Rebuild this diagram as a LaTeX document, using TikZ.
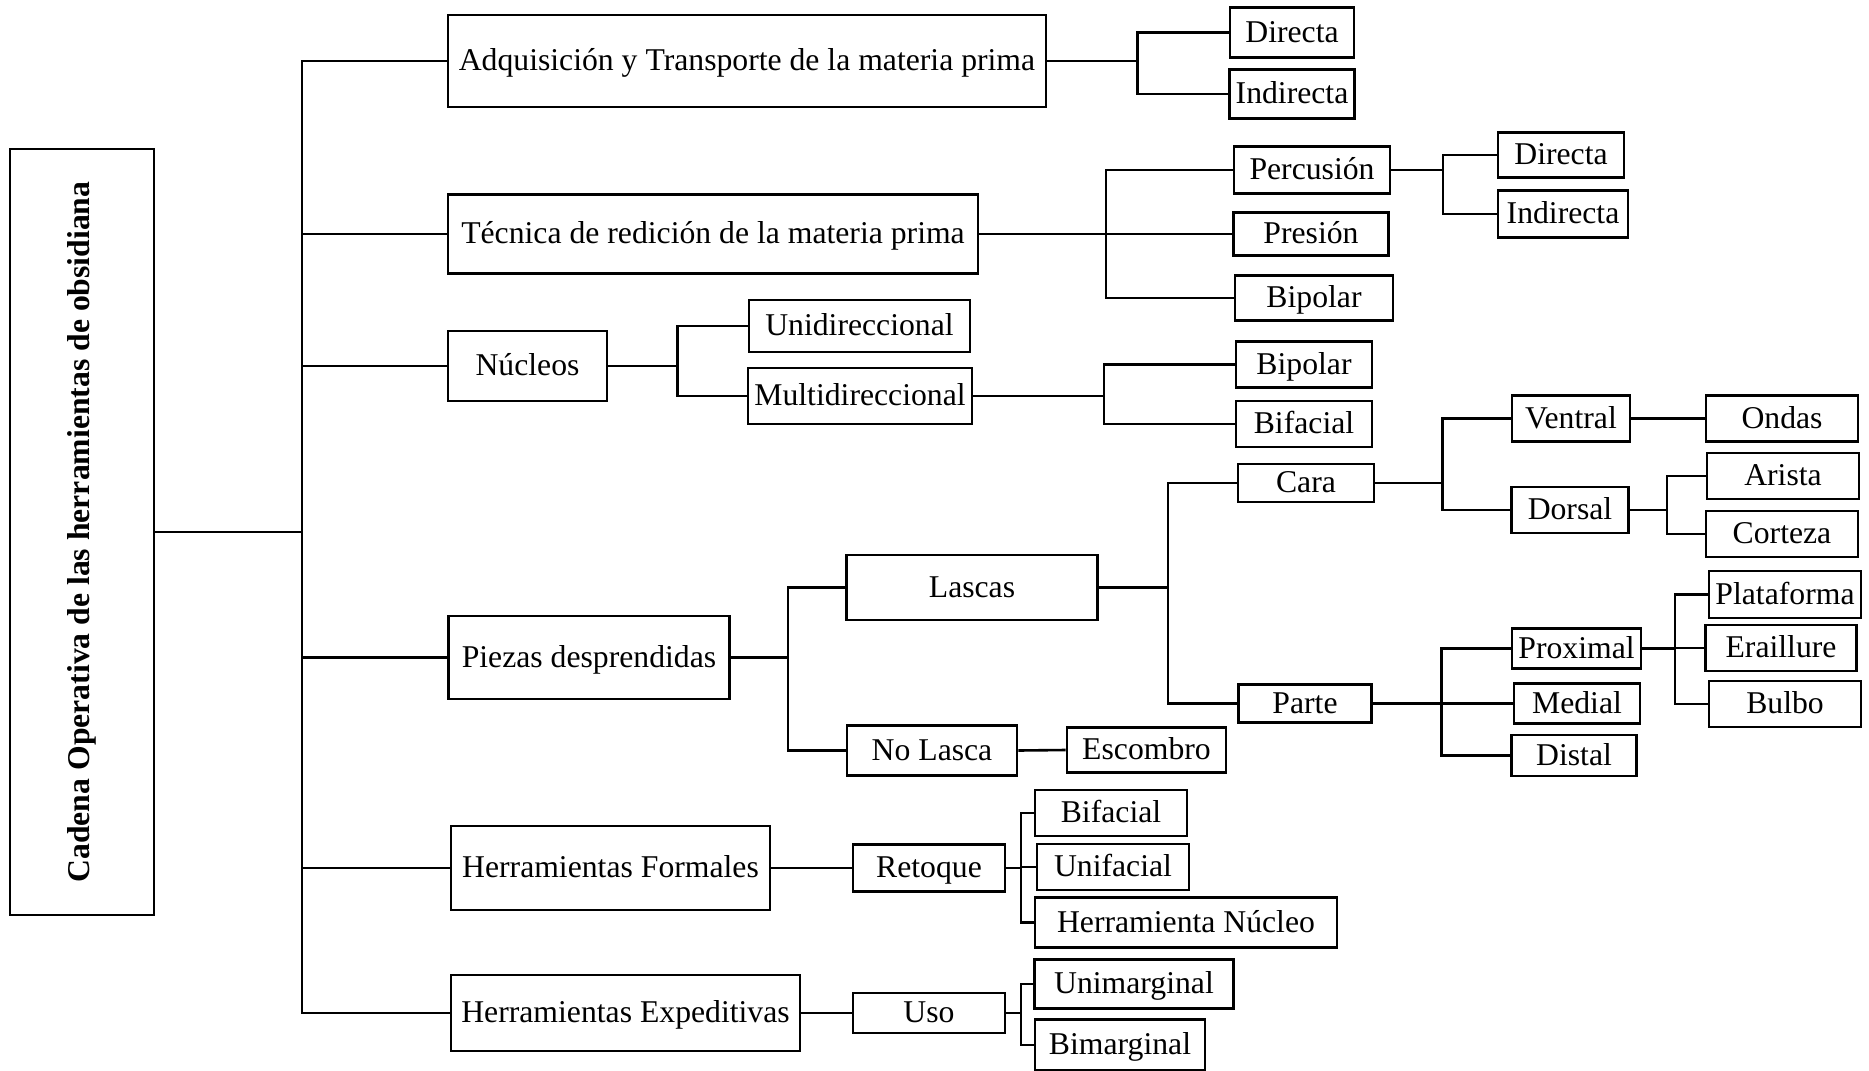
\documentclass[tikz,border=0pt]{standalone}
\usepackage{fontspec}
\setmainfont{Liberation Serif}
\usepackage{tikz}

\begin{document}
\begin{tikzpicture}[x=0.5pt,y=-0.5pt,
  box/.style 2 args={draw,line width=1.3pt,inner sep=0pt,
                     minimum width=#1*0.5pt,minimum height=#2*0.5pt,
                     text height=14.3pt,text depth=4.6pt,
                     font=\fontsize{15.85pt}{19pt}\selectfont},
  link/.style={line width=1.3pt}]
  \useasboundingbox (0,0) rectangle (1869,1071);
  \node[box={144}{766},text height=,text depth=] (root) at (82,532)
    {\rotatebox{90}{\bfseries Cadena Operativa de las herramientas de obsidiana}};
  % first level
  \node[box={598}{92}] (adq) at (747,61) {Adquisición y Transporte de la materia prima};
  \node[box={530}{79}] (tec) at (713,234) {Técnica de redición de la materia prima};
  \node[box={159}{70}] (nuc) at (527.5,366) {Núcleos};
  \node[box={281}{83}] (pie) at (589,657.5) {Piezas desprendidas};
  \node[box={319}{84}] (hfor) at (610.5,868) {Herramientas Formales};
  \node[box={349}{76}] (hexp) at (625.5,1013) {Herramientas Expeditivas};
  % adquisicion
  \node[box={124}{50}] (dirA) at (1292,32.5) {Directa};
  \node[box={125}{49}] (indA) at (1292,94) {Indirecta};
  % tecnica
  \node[box={156}{47}] (per) at (1312,170) {Percusión};
  \node[box={155}{43}] (pre) at (1311,234) {Presión};
  \node[box={158}{45}] (bipT) at (1314,298) {Bipolar};
  \node[box={126}{45}] (dirP) at (1561,155) {Directa};
  \node[box={130}{47}] (indP) at (1563,214) {Indirecta};
  % nucleos
  \node[box={221}{52}] (uni) at (859.5,326) {Unidireccional};
  \node[box={224}{56}] (mul) at (860,396) {Multidireccional};
  \node[box={136}{46}] (bipM) at (1304,364.5) {Bipolar};
  \node[box={136}{46}] (bifM) at (1304,424) {Bifacial};
  % piezas
  \node[box={251}{65}] (las) at (972,587.5) {Lascas};
  \node[box={170}{50}] (nol) at (932,750.5) {No Lasca};
  \node[box={159}{45}] (esc) at (1146.5,750) {Escombro};
  \node[box={136}{37}] (car) at (1306,483) {Cara};
  \node[box={133}{35}] (par) at (1305,703.5) {Parte};
  \node[box={118}{46}] (ven) at (1571,418.5) {Ventral};
  \node[box={117}{46}] (dor) at (1570,510) {Dorsal};
  \node[box={152}{46}] (ond) at (1782,418.5) {Ondas};
  \node[box={152}{46}] (ari) at (1783,476) {Arista};
  \node[box={152}{46}] (cor) at (1782,534) {Corteza};
  \node[box={129}{40}] (pro) at (1576.5,648.5) {Proximal};
  \node[box={126}{40}] (med) at (1577,703.5) {Medial};
  \node[box={125}{41}] (dis) at (1574,755.5) {Distal};
  \node[box={152}{47}] (pla) at (1785,594.5) {Plataforma};
  \node[box={151}{46}] (era) at (1781,648) {Eraillure};
  \node[box={152}{46}] (bul) at (1785,704) {Bulbo};
  % herramientas
  \node[box={152}{47}] (ret) at (929,868) {Retoque};
  \node[box={152}{46}] (bifR) at (1111,813) {Bifacial};
  \node[box={152}{46}] (unf) at (1113,867) {Unifacial};
  \node[box={302}{50}] (hnu) at (1186,922.5) {Herramienta Núcleo};
  \node[box={152}{40}] (uso) at (929,1013) {Uso};
  \node[box={199}{49}] (unm) at (1134,984) {Unimarginal};
  \node[box={170}{51}] (bim) at (1120,1045) {Bimarginal};
  % junction points of the brackets
  \coordinate (trunk) at (302,532);
  \coordinate (jA) at (1137.5,61);
  \coordinate (jT) at (1106,234);
  \coordinate (jP) at (1443,170);
  \coordinate (jN) at (677.5,366);
  \coordinate (jM) at (1104,396);
  \coordinate (jPz) at (788,657.5);
  \coordinate (jL) at (1168,587.5);
  \coordinate (jC) at (1442.5,483);
  \coordinate (jD) at (1667,510);
  \coordinate (jPa) at (1441.5,703.5);
  \coordinate (jPr) at (1675,648.5);
  \coordinate (jR) at (1021,868);
  \coordinate (jU) at (1021,1013);
  \draw[link] (root.east) -- (trunk);
  \foreach \n in {adq,tec,nuc,pie,hfor,hexp} \draw[link] (trunk) |- (\n.west);
  \draw[link] (adq.east) -- (jA);
  \foreach \n in {dirA,indA} \draw[link] (jA) |- (\n.west);
  \draw[link] (tec.east) -- (jT);
  \foreach \n in {per,pre,bipT} \draw[link] (jT) |- (\n.west);
  \draw[link] (per.east) -- (jP);
  \foreach \n in {dirP,indP} \draw[link] (jP) |- (\n.west);
  \draw[link] (nuc.east) -- (jN);
  \foreach \n in {uni,mul} \draw[link] (jN) |- (\n.west);
  \draw[link] (mul.east) -- (jM);
  \foreach \n in {bipM,bifM} \draw[link] (jM) |- (\n.west);
  \draw[link] (pie.east) -- (jPz);
  \foreach \n in {las,nol} \draw[link] (jPz) |- (\n.west);
  \draw[link] (nol.east) -- (esc.west);
  \draw[link] (las.east) -- (jL);
  \foreach \n in {car,par} \draw[link] (jL) |- (\n.west);
  \draw[link] (car.east) -- (jC);
  \foreach \n in {ven,dor} \draw[link] (jC) |- (\n.west);
  \draw[link] (ven.east) -- (ond.west);
  \draw[link] (dor.east) -- (jD);
  \foreach \n in {ari,cor} \draw[link] (jD) |- (\n.west);
  \draw[link] (par.east) -- (jPa);
  \foreach \n in {pro,med,dis} \draw[link] (jPa) |- (\n.west);
  \draw[link] (pro.east) -- (jPr);
  \foreach \n in {pla,era,bul} \draw[link] (jPr) |- (\n.west);
  \draw[link] (hfor.east) -- (ret.west);
  \draw[link] (ret.east) -- (jR);
  \foreach \n in {bifR,unf,hnu} \draw[link] (jR) |- (\n.west);
  \draw[link] (hexp.east) -- (uso.west);
  \draw[link] (uso.east) -- (jU);
  \foreach \n in {unm,bim} \draw[link] (jU) |- (\n.west);
\end{tikzpicture}
\end{document}
